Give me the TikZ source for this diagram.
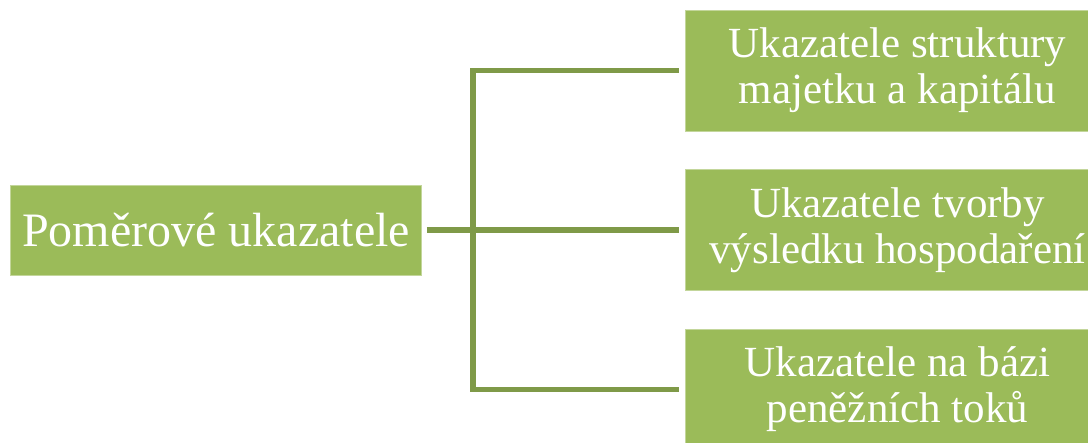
\documentclass[tikz,border=0pt]{standalone}
\usepackage{fontspec}
\setmainfont{Liberation Serif}
\usetikzlibrary{positioning}
\definecolor{mygreen}{HTML}{9BBB59}
\definecolor{myline}{HTML}{7F9A48}

\begin{document}
\begin{tikzpicture}[x=1pt, y=-1pt,
    box/.style={fill=mygreen, draw=mygreen!60!white, line width=0.8pt, text=white, align=center, inner sep=0pt},
    rootbox/.style={box, minimum width=411pt, minimum height=90pt, font=\fontsize{48}{52}\selectfont},
    leaf/.style={box, minimum width=425pt, minimum height=121pt, font=\fontsize{43}{46}\selectfont},
    link/.style={draw=myline, line width=5.5pt}
  ]
  \useasboundingbox (0,0) rectangle (1088,443);
  \clip (0,0) rectangle (1088,443);
  \node[rootbox] (root) at (216, 230) {Poměrové ukazatele};
  \node[leaf] (struk) at (897.5, 70.5) {Ukazatele struktury\\majetku a kapitálu};
  \node[leaf] (tvorba) at (897.5, 230) {Ukazatele tvorby\\výsledku hospodaření};
  \node[leaf] (toky) at (897.5, 389.5) {Ukazatele na bázi\\peněžních toků};
  \coordinate (split) at (473, 230);
  \draw[link, shorten <=5pt, shorten >=6pt] (root.east) -- (tvorba.west);
  \draw[link, shorten <=6pt, shorten >=6pt] (struk.west) -| (split) |- (toky.west);
\end{tikzpicture}
\end{document}
